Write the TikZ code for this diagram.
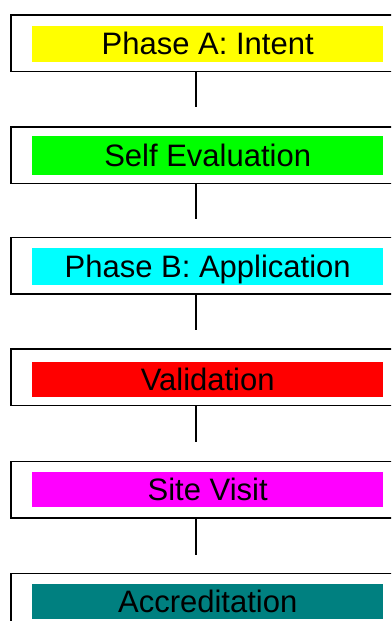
\documentclass[tikz,border=0pt]{standalone}
\usepackage{fontspec}
\setmainfont{Liberation Sans}
\definecolor{cYellow}{HTML}{FFFF00}
\definecolor{cGreen}{HTML}{00FF00}
\definecolor{cCyan}{HTML}{00FFFF}
\definecolor{cRed}{HTML}{FF0000}
\definecolor{cMagenta}{HTML}{FF00FF}
\definecolor{cTeal}{HTML}{008080}
\begin{document}
\begin{tikzpicture}[x=1pt,y=-1pt,
  outerbox/.style={draw=black, line width=1.7pt, fill=white, minimum width=400pt,
    minimum height=56.5pt, anchor=north west, inner sep=0pt},
  barbox/.style={minimum width=351pt, minimum height=35.5pt, anchor=north west,
    inner sep=0pt, text height=22pt, text depth=0pt,
    font=\fontsize{31}{36}\selectfont},
  conn/.style={draw=black, line width=1.6pt}]
\useasboundingbox (0,0) rectangle (391,621);
\fill[white] (0,0) rectangle (391,621);
\clip (0,0) rectangle (391,621);
% outer boxes
\node[outerbox] (o1) at (10,14) {};
\node[outerbox] (o2) at (10,126) {};
\node[outerbox] (o3) at (10,236.5) {};
\node[outerbox] (o4) at (10,348) {};
\node[outerbox] (o5) at (10,460.5) {};
\node[outerbox] (o6) at (10,572.5) {};
% coloured bars
\node[barbox, fill=cYellow] (b1) at (32,26) {Phase A: Intent};
\node[barbox, fill=cGreen, minimum height=38.5pt] (b2) at (32,136) {Self Evaluation};
\node[barbox, fill=cCyan, minimum height=37pt] (b3) at (32,248) {Phase B: Application};
\node[barbox, fill=cRed, minimum height=34.7pt] (b4) at (32,362) {Validation};
\node[barbox, fill=cMagenta, minimum height=34.7pt] (b5) at (32,472) {Site Visit};
\node[barbox, fill=cTeal, minimum height=35pt] (b6) at (32,584) {Accreditation};
% connectors
\coordinate (e1) at (196,107);
\coordinate (e2) at (196,219);
\coordinate (e3) at (196,330);
\coordinate (e4) at (196,442);
\coordinate (e5) at (196,555);
\draw[conn] (o1.south -| e1) -- (e1);
\draw[conn] (o2.south -| e2) -- (e2);
\draw[conn] (o3.south -| e3) -- (e3);
\draw[conn] (o4.south -| e4) -- (e4);
\draw[conn] (o5.south -| e5) -- (e5);
\end{tikzpicture}
\end{document}
